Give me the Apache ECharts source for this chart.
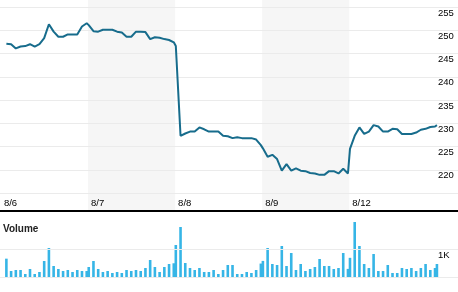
<!DOCTYPE html>
<html>
<head>
<meta charset="utf-8">
<script src="https://cdn.jsdelivr.net/npm/echarts@6/dist/echarts.min.js"></script>
<style>
html,body{margin:0;padding:0;background:#fff;}
#c{width:458px;height:292px;}
</style>
</head>
<body>
<div id="c"></div>
<script>
// ---- data ----
const days = ['8/6', '8/7', '8/8', '8/9', '8/12'];
const shadedDays = ['8/7', '8/9'];
const firstSlot = [1, 0, 0, 0, 0];     // first intraday bar slot present per session
const closeSlot = 18.4;                 // slot of the final extra print of the last session
const SESSION = 18.43;                  // session length measured in bar slots

const priceAug6  = [247.1, 247.0, 246.1, 246.5, 246.6, 247.0, 246.5, 247.0, 248.3, 251.3, 249.7, 248.6, 248.6, 249.1, 249.1, 249.1, 250.8, 251.5];
const priceAug7  = [251.1, 249.8, 249.7, 250.1, 250.1, 250.1, 249.7, 249.5, 248.6, 248.6, 249.7, 249.7, 249.6, 248.1, 248.5, 248.4, 248.1, 247.9, 247.4];
const priceAug8  = [246.6, 227.3, 227.8, 228.2, 228.2, 229.1, 228.7, 228.2, 228.2, 228.2, 227.3, 227.2, 226.8, 227.0, 226.8, 226.8, 226.8, 226.5, 225.3];
const priceAug9  = [224.6, 222.8, 223.2, 222.3, 219.8, 221.2, 219.8, 220.3, 219.8, 219.7, 219.3, 219.2, 218.9, 218.9, 219.7, 219.7, 219.2, 220.2, 219.2];
const priceAug12 = [224.5, 227.3, 229.1, 227.7, 228.2, 229.6, 229.3, 228.2, 228.2, 228.8, 228.7, 227.7, 227.7, 227.7, 228.0, 228.6, 228.8, 229.2, 229.3, 229.6];

const volAug6  = [655, 214, 250, 250, 107, 286, 107, 179, 571, 1036, 393, 286, 214, 250, 179, 250, 214, 214];
const volAug7  = [357, 571, 286, 179, 214, 143, 179, 143, 250, 214, 250, 214, 321, 607, 357, 179, 357, 464, 490];
const volAug8  = [1143, 1786, 500, 321, 250, 321, 179, 179, 250, 107, 250, 429, 429, 107, 107, 179, 143, 250, 480];
const volAug9  = [575, 1036, 464, 429, 1107, 393, 857, 250, 464, 214, 286, 357, 643, 393, 393, 286, 321, 857, 290];
const volAug12 = [685, 1964, 1107, 464, 321, 821, 214, 214, 429, 143, 143, 321, 286, 321, 214, 321, 464, 250, 321, 464];

const priceTicks = [215, 220, 225, 230, 235, 240, 245, 250, 255];
const volumeTicks = [0, 1000, 2000];

// ---- build ----
const prices = [priceAug6, priceAug7, priceAug8, priceAug9, priceAug12];
const vols = [volAug6, volAug7, volAug8, volAug9, volAug12];
function slotX(d, i) {
  let k = firstSlot[d] + i;
  if (k > 18) k = closeSlot;
  return d * SESSION + k + 0.15;
}
const lineData = [], barData = [];
prices.forEach((arr, d) => arr.forEach((v, i) => lineData.push([slotX(d, i), v])));
vols.forEach((arr, d) => arr.forEach((v, i) => barData.push([slotX(d, i), v])));

const XMIN = -0.2, XMAX = XMIN + 458 / 4.725;
const dayStarts = days.map((_, d) => d * SESSION);

const LINE = '#176c8c', BAR = '#36b5e6', GRID = '#ebebeb', SHADE = '#f6f6f6';
const FONT = 'Liberation Sans, Arial, sans-serif';

const chart = echarts.init(document.getElementById('c'), null, {renderer: 'canvas'});
chart.setOption({
  animation: false,
  title: {
    text: 'Volume', left: 3, top: 224, padding: 0,
    textStyle: {fontSize: 10, fontWeight: 'bold', color: '#222', fontFamily: FONT}
  },
  grid: [
    {left: 0, right: 0, top: 0, height: 211},
    {left: 0, right: 0, top: 7, height: 186},
    {left: 0, right: 0, top: 221, height: 56}
  ],
  xAxis: [
    {type: 'value', gridIndex: 0, min: XMIN, max: XMAX, z: 3,
     axisLine: {show: true, onZero: false, lineStyle: {color: '#000', width: 2}},
     axisTick: {show: false}, axisLabel: {show: false}, splitLine: {show: false}},
    {type: 'value', gridIndex: 1, min: XMIN, max: XMAX, z: 3,
     axisLine: {show: false}, axisTick: {show: false}, splitLine: {show: false},
     axisLabel: {
       customValues: dayStarts,
       hideOverlap: false,
       formatter: v => days[Math.round(v / SESSION)] || '',
       align: 'left', margin: 5, padding: [0, 0, 0, 3],
       color: '#000', fontSize: 9.5, fontFamily: FONT,
       showMinLabel: true, showMaxLabel: true
     }},
    {type: 'value', gridIndex: 2, min: XMIN, max: XMAX, show: false}
  ],
  yAxis: [
    {type: 'value', gridIndex: 0, min: 0, max: 1, show: false},
    {type: 'value', gridIndex: 1, position: 'right', min: priceTicks[0], max: priceTicks[priceTicks.length - 1], interval: 5, z: 3,
     axisLine: {show: false}, axisTick: {show: false},
     splitLine: {show: true, lineStyle: {color: GRID, width: 1}},
     axisLabel: {inside: true, align: 'left', margin: 20, verticalAlign: 'top', padding: [1, 0, 0, 0],
       color: '#000', fontSize: 9.5, fontFamily: FONT,
       formatter: v => v === priceTicks[0] ? '' : String(v)}},
    {type: 'value', gridIndex: 2, position: 'right', min: volumeTicks[0], max: volumeTicks[2], interval: 1000, z: 3,
     axisLine: {show: false}, axisTick: {show: false},
     splitLine: {show: true, lineStyle: {color: [GRID, GRID, 'rgba(0,0,0,0)'], width: 1}},
     axisLabel: {inside: true, align: 'left', margin: 20, verticalAlign: 'top', padding: [1, 0, 0, 0],
       color: '#000', fontSize: 9.5, fontFamily: FONT,
       formatter: v => v === 1000 ? '1K' : ''}}
  ],
  series: [
    {type: 'line', xAxisIndex: 0, yAxisIndex: 0, data: [], silent: true,
     markArea: {silent: true, z: 0.5, itemStyle: {color: SHADE},
       data: shadedDays.map(dd => {
         const d = days.indexOf(dd);
         return [{xAxis: dayStarts[d]}, {xAxis: dayStarts[d] + SESSION}];
       })}},
    {type: 'line', xAxisIndex: 1, yAxisIndex: 1, data: lineData, showSymbol: false, z: 5,
     lineStyle: {color: LINE, width: 2}, itemStyle: {color: LINE}},
    {type: 'bar', xAxisIndex: 2, yAxisIndex: 2, data: barData, barWidth: 2.6, z: 2,
     itemStyle: {color: BAR}}
  ]
});
</script>
</body>
</html>
